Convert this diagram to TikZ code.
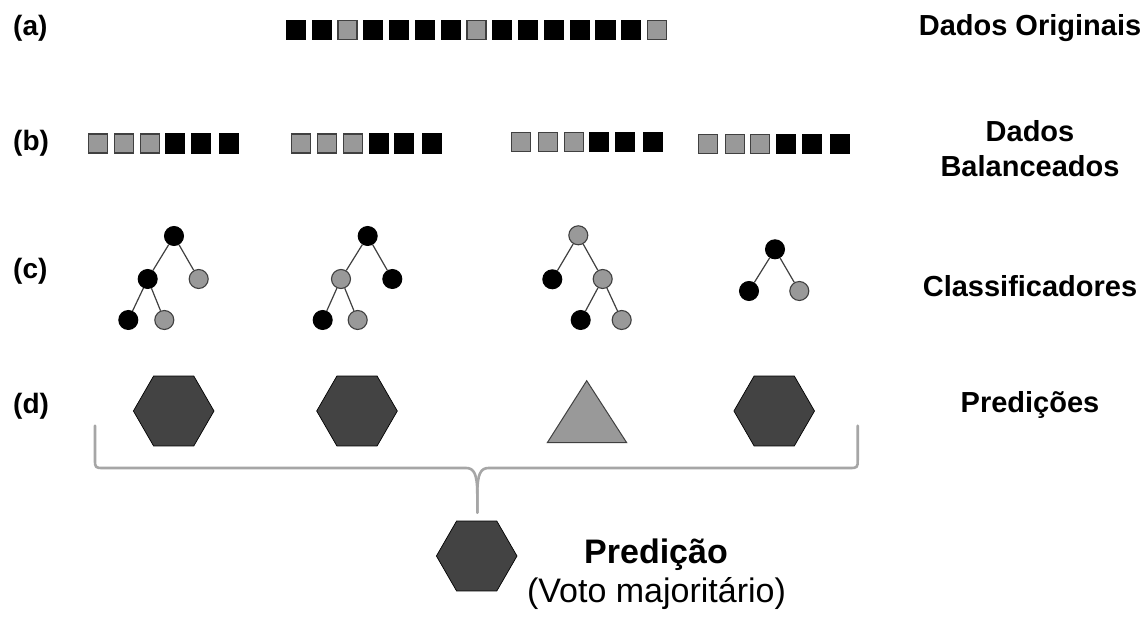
\documentclass[tikz,border=0pt]{standalone}
\usepackage{fontspec}
\setmainfont{Liberation Sans}
\usetikzlibrary{shapes.geometric}
\definecolor{chipgray}{HTML}{999999}
\definecolor{edgegray}{HTML}{404040}
\definecolor{hexfill}{HTML}{434343}
\definecolor{bracegray}{HTML}{A6A6A6}
\tikzset{
  sq/.style={rectangle, minimum size=19pt, inner sep=0pt, line width=1.1pt},
  sqb/.style={sq, fill=black, draw=black},
  sqg/.style={sq, fill=chipgray, draw=edgegray},
  nodeb/.style={circle, minimum size=19pt, inner sep=0pt, fill=black, draw=black, line width=1pt},
  nodeg/.style={circle, minimum size=19pt, inner sep=0pt, fill=chipgray, draw=edgegray, line width=1.1pt},
  branch/.style={draw=edgegray, line width=1.2pt},
  hexa/.style={regular polygon, regular polygon sides=6, minimum size=80.6pt, inner sep=0pt, fill=hexfill, draw=black, line width=0.7pt},
  trishape/.style={fill=chipgray, draw=edgegray, line width=1pt, line join=miter},
  brace/.style={draw=bracegray, line width=2.6pt, line cap=round, line join=round},
  rowlabel/.style={font=\fontsize{28}{33}\selectfont\bfseries, inner sep=0pt, anchor=base west},
  sidelabel/.style={font=\fontsize{29}{34}\selectfont\bfseries, inner sep=0pt, anchor=base},
}
\begin{document}
\begin{tikzpicture}[x=1pt, y=-1pt]
\useasboundingbox[fill=white] (0,0) rectangle (1144,617);

% row labels
\node[rowlabel] (la) at (13,36) {(a)};
\node[rowlabel] (lb) at (13,151) {(b)};
\node[rowlabel] (lc) at (13,279) {(c)};
\node[rowlabel] (ld) at (13,414) {(d)};

% right-hand captions
\node[sidelabel] (sa) at (1030,35.5) {Dados Originais};
\node[sidelabel] (sb1) at (1030,142) {Dados};
\node[sidelabel] (sb2) at (1030,177) {Balanceados};
\node[sidelabel] (sc) at (1030,297) {Classificadores};
\node[sidelabel] (sd) at (1030,413) {Predições};

% (a) original data: 15 samples, 3 of the minority class
\foreach \i/\k in {0/sqb,1/sqb,2/sqg,3/sqb,4/sqb,5/sqb,6/sqb,7/sqg,8/sqb,9/sqb,10/sqb,11/sqb,12/sqb,13/sqb,14/sqg}
  \node[\k] (a\i) at (295.9+25.8*\i,30) {};

% (b) four balanced subsets: three minority + three majority samples each
\foreach \x/\k [count=\j] in {98/sqg,124/sqg,149.7/sqg,175.4/sqb,200.7/sqb,228.7/sqb}
  \node[\k] (ba\j) at (\x,143.5) {};
\foreach \x/\k [count=\j] in {300.7/sqg,327.4/sqg,353/sqg,378.7/sqb,404/sqb,432.4/sqb}
  \node[\k] (bb\j) at (\x,143.5) {};
\foreach \x/\k [count=\j] in {521.4/sqg,548/sqg,573.7/sqg,599/sqb,625/sqb,653/sqb}
  \node[\k] (bc\j) at (\x,142.3) {};
\foreach \x/\k [count=\j] in {708/sqg,734.7/sqg,760.4/sqg,786.4/sqb,812/sqb,839.7/sqb}
  \node[\k] (bd\j) at (\x,143.7) {};

% (c) decision trees
\node[nodeb] (t1r) at (174,236) {};
\node[nodeb] (t1a) at (147.7,279) {};
\node[nodeg] (t1b) at (198.7,279) {};
\node[nodeb] (t1c) at (128.3,320) {};
\node[nodeg] (t1d) at (164.3,320) {};
\draw[branch] (t1r) -- (t1a) (t1r) -- (t1b) (t1a) -- (t1c) (t1a) -- (t1d);

\node[nodeb] (t2r) at (367.7,236) {};
\node[nodeg] (t2a) at (341,279) {};
\node[nodeb] (t2b) at (392.3,279) {};
\node[nodeb] (t2c) at (322.7,320) {};
\node[nodeg] (t2d) at (357.7,320) {};
\draw[branch] (t2r) -- (t2a) (t2r) -- (t2b) (t2a) -- (t2c) (t2a) -- (t2d);

\node[nodeg] (t3r) at (578.3,235.3) {};
\node[nodeb] (t3a) at (552.3,279.3) {};
\node[nodeg] (t3b) at (602.7,279) {};
\node[nodeb] (t3c) at (580.7,320) {};
\node[nodeg] (t3d) at (621.7,320) {};
\draw[branch] (t3r) -- (t3a) (t3r) -- (t3b) (t3b) -- (t3c) (t3b) -- (t3d);

\node[nodeb] (t4r) at (775,249.3) {};
\node[nodeb] (t4a) at (749,291) {};
\node[nodeg] (t4b) at (799.3,291) {};
\draw[branch] (t4r) -- (t4a) (t4r) -- (t4b);

% (d) individual predictions
\node[hexa] (p1) at (173.7,411) {};
\node[hexa] (p2) at (357,411) {};
\draw[trishape] (586.7,380.7) -- (626.7,442.7) -- (547.3,442.7) -- cycle;
\node[hexa] (p4) at (774.2,411) {};

% brace joining the predictions
\coordinate (bl) at (95,425.7);
\coordinate (br) at (857.7,425.7);
\coordinate (bm) at (477.3,512.7);
\draw[brace] (bl) -- (95,459) .. controls (95,468) .. (104,468) -- (466,468)
  .. controls (474,468) and (477.3,474) .. (477.3,494) -- (bm);
\draw[brace] (br) -- (857.7,459) .. controls (857.7,468) .. (848.7,468) -- (488.6,468)
  .. controls (480.6,468) and (477.3,474) .. (477.3,494) -- (bm);

% final vote
\node[hexa] (pf) at (476.7,556) {};
\node[font=\fontsize{34}{39}\selectfont\bfseries, inner sep=0pt, anchor=base] (vt) at (656,563.5) {Predição};
\node[font=\fontsize{34}{39}\selectfont, inner sep=0pt, anchor=base] (vs) at (656.5,602) {(Voto majoritário)};
\end{tikzpicture}
\end{document}
